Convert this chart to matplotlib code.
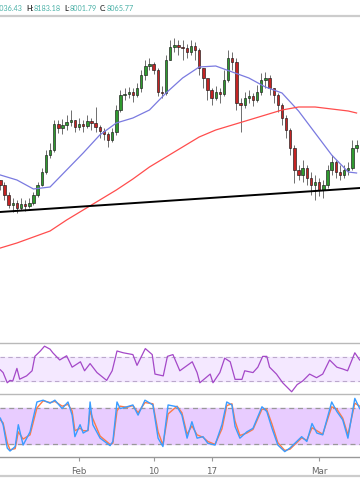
import numpy as np
import pandas as pd
import matplotlib
matplotlib.use("Agg")
import matplotlib.pyplot as plt
from matplotlib.lines import Line2D

# 12h candles starting 2020-01-22 12:00
start = pd.Timestamp("2020-01-22 12:00")
first_open = 9000
closes = [8950, 8850, 8750, 8770, 8720, 8760, 8740, 8770, 8850, 8950,
          9080, 9250, 9300, 9560, 9520, 9550, 9580, 9600, 9530, 9560,
          9540, 9590, 9570, 9530, 9490, 9460, 9400, 9480, 9700, 9850,
          9860, 9880, 9850, 9920, 10050, 10140, 10160, 10100, 9880, 9870,
          10200, 10330, 10350, 10330, 10320, 10280, 10340, 10300, 10120, 10020,
          9900, 9820, 9880, 9860, 10000, 10220, 10180, 9770, 9750, 9820,
          9840, 9800, 9880, 10000, 10020, 9920, 9850, 9750, 9620, 9500,
          9320, 9100, 9050, 9120, 9020, 8950, 8980, 8900, 8950, 9100,
          9180, 9080, 9050, 9100, 9120, 9320, 9350]
highs = [9000, 8980, 8880, 8820, 8800, 8820, 8800, 8820, 8880, 8980,
         9120, 9300, 9370, 9600, 9600, 9610, 9650, 9700, 9600, 9620,
         9600, 9650, 9620, 9730, 9550, 9520, 9480, 9520, 9750, 9900,
         9920, 9930, 9920, 9970, 10100, 10200, 10220, 10180, 10120, 9940,
         10250, 10400, 10420, 10400, 10400, 10360, 10400, 10380, 10320, 10120,
         10000, 9920, 9940, 9920, 10100, 10300, 10280, 10220, 9820, 9880,
         9900, 9870, 9950, 10070, 10080, 10050, 9920, 9870, 9770, 9650,
         9520, 9350, 9150, 9200, 9150, 9080, 9050, 9020, 9000, 9150,
         9250, 9200, 9150, 9150, 9180, 9400, 9400]
lows = [8900, 8800, 8720, 8680, 8670, 8700, 8690, 8720, 8750, 8830,
        8940, 9060, 9220, 9280, 9470, 9460, 9500, 9540, 9480, 9500,
        9480, 9520, 9500, 9480, 9420, 9400, 9330, 9380, 9450, 9680,
        9800, 9820, 9780, 9830, 9880, 10000, 10100, 10060, 9840, 9820,
        9850, 10200, 10280, 10250, 10200, 10220, 10250, 10200, 10050, 9920,
        9800, 9750, 9800, 9770, 9840, 9980, 10100, 9700, 9480, 9720,
        9770, 9740, 9780, 9850, 9920, 9850, 9770, 9680, 9550, 9420,
        9250, 8970, 9000, 8980, 8950, 8850, 8800, 8840, 8820, 8920,
        9050, 9020, 9000, 9020, 9050, 9100, 9280]

# moving averages, sampled every 4 candles (last one at candle 86)
ma_candles = [0, 4, 8, 12, 16, 20, 24, 28, 32, 36, 40, 44, 48, 52, 56, 60,
              64, 68, 72, 76, 80, 84, 86]
ma_fast = [9050, 9000, 8910, 8930, 9100, 9270, 9450, 9570, 9620, 9700, 9870,
           10020, 10130, 10140, 10080, 10020, 9930, 9870, 9690, 9470, 9250,
           9080, 9070]
ma_slow = [8320, 8370, 8430, 8490, 8600, 8700, 8800, 8900, 9010, 9130, 9230,
           9330, 9430, 9500, 9550, 9600, 9650, 9700, 9730, 9730, 9710, 9690,
           9670]

# support trendline (price at left / right edge)
trend_hours = [-1, 1042]
trend_price = [8680, 8920]

# RSI (hours from start)
rsi_hours = [0, 8, 20, 28, 36, 48, 56, 76, 92, 100,
             116, 128, 144, 152, 172, 192, 208, 232, 244, 260,
             280, 308, 324, 338, 356, 384, 396, 420, 440, 448,
             472, 484, 500, 520, 556, 570, 578, 608, 616, 636,
             650, 666, 680, 700, 708, 732, 746, 760, 772, 780,
             800, 818, 844, 860, 876, 896, 916, 934, 954, 975,
             992, 1006, 1027, 1041]
rsi_vals = [48.6, 44, 27, 31, 30, 51, 33, 38.5, 47, 71,
            80, 88, 83, 77, 65, 72, 53, 62, 47, 59,
            44, 31, 47, 80, 77, 74, 56, 84, 74, 41.5,
            38.5, 71, 74, 47, 62, 44, 27, 41.5, 27, 44,
            68, 62, 32.7, 32.7, 47, 44, 53, 71, 71, 53,
            41.5, 27, 12, 24, 30, 41.5, 35.5, 41.5, 65, 53,
            50, 47, 77, 65]

# stochastic %K / %D
stoch_hours = [0, 8, 20, 28, 43, 52, 66, 86, 106, 124,
               144, 158, 179, 196, 208, 216, 231, 240, 254, 260,
               268, 289, 318, 326, 338, 347, 367, 384, 399, 419,
               442, 457, 471, 486, 512, 526, 541, 555, 570, 587,
               601, 622, 642, 656, 671, 680, 694, 714, 732, 758,
               772, 787, 804, 824, 839, 873, 888, 903, 917, 934,
               960, 975, 992, 1007, 1027, 1041]
stoch_k = [63, 52, 13, 8, 15.5, 52, 18, 40, 90, 93,
           88, 93, 79, 90, 68, 32, 52, 38, 43, 90,
           52, 29.5, 17, 24, 90, 79, 82, 85, 68, 93,
           85, 29.5, 15.5, 85, 82, 68, 29.5, 57, 29.5, 32,
           21, 18, 52, 90, 85, 49, 29.5, 40, 46, 82,
           74, 46, 18, 7, 13, 32, 24, 54, 38, 35,
           90, 74, 60, 29.5, 96, 79]
stoch_d = [60, 55, 22, 10, 12, 40, 28, 35, 80, 92,
           89, 91, 83, 86, 75, 42, 46, 42, 42, 75,
           62, 33, 19, 21, 75, 83, 81, 84, 72, 89,
           87, 40, 18, 70, 83, 72, 36, 50, 35, 31,
           24, 19, 45, 84, 87, 58, 34, 38, 44, 78,
           77, 53, 22, 9, 11, 30, 26, 47, 42, 36,
           82, 78, 63, 35, 88, 83]

tick_dates = ["2020-02-01", "2020-02-10", "2020-02-17", "2020-03-01"]
tick_labels = ["Feb", "10", "17", "Mar"]

header = [("O:", "8036.43"), ("H:", "8183.18"), ("L:", "8001.79"),
          ("C:", "8065.77")]

W, H = 360, 504
fig = plt.figure(figsize=(W / 100, H / 100), dpi=100)
fig.patch.set_facecolor("white")


def box(top, bottom):
    return [0, 1 - bottom / H, 1, (bottom - top) / H]


ax = fig.add_axes(box(16, 340))
ax_rsi = fig.add_axes(box(343, 394), sharex=ax)
ax_st = fig.add_axes(box(396, 457), sharex=ax)

# --- candles
closes = np.array(closes, float)
opens = np.r_[first_open, closes[:-1]]
hours = np.arange(len(closes)) * 12.0
up = closes >= opens
ax.vlines(hours, lows, highs, color="#6e6e6e", lw=0.7, zorder=2)
body = np.maximum(np.abs(closes - opens), 8)
bottoms = np.minimum(opens, closes)
ax.bar(hours[up], body[up], bottom=bottoms[up], width=7,
       color="#2f9a2f", edgecolor="#1a1a1a", lw=0.45, zorder=3)
ax.bar(hours[~up], body[~up], bottom=bottoms[~up], width=7,
       color="#c42323", edgecolor="#1a1a1a", lw=0.45, zorder=3)

ma_hours = np.array(ma_candles) * 12.0
ax.plot(ma_hours, ma_fast, color="#7a7ae0", lw=0.9, zorder=4)
ax.plot(ma_hours, ma_slow, color="#ff4d4d", lw=0.9, zorder=4)
ax.plot(trend_hours, trend_price, color="black", lw=1.4, zorder=5)

ax.set_xlim(-1, 1042)
ax.set_ylim(7400, 10640)
ax.axis("off")

# --- RSI
ax_rsi.axhspan(30, 70, color="#f4e8ff", zorder=0)
for lvl in (30, 70):
    ax_rsi.axhline(lvl, color="#bba8cc", lw=0.8, ls=(0, (4, 3)))
ax_rsi.plot(rsi_hours, rsi_vals, color="#a448c8", lw=0.9)
ax_rsi.set_ylim(8.3, 93.3)
for s in ("left", "right"):
    ax_rsi.spines[s].set_visible(False)
for s in ("top", "bottom"):
    ax_rsi.spines[s].set_color("#b9b9b9")
    ax_rsi.spines[s].set_linewidth(1)
ax_rsi.set_yticks([])
ax_rsi.tick_params(axis="x", bottom=False, labelbottom=False)

# --- Stochastic
ax_st.axhspan(20, 80, color="#e8ccff", zorder=0)
for lvl in (20, 80):
    ax_st.axhline(lvl, color="#999999", lw=0.9, ls=(0, (4, 3)))
ax_st.plot(stoch_hours, stoch_d, color="#ff7a45", lw=1.0)
ax_st.plot(stoch_hours, stoch_k, color="#3a9cff", lw=1.0)
ax_st.set_ylim(-2, 100)
for s in ("left", "right", "top"):
    ax_st.spines[s].set_visible(False)
ax_st.spines["bottom"].set_color("#999999")
ax_st.spines["bottom"].set_linewidth(1)
ax_st.set_yticks([])
tick_pos = [(pd.Timestamp(d) - start) / pd.Timedelta(hours=1) for d in tick_dates]
ax_st.set_xticks(tick_pos)
ax_st.set_xticklabels(tick_labels)
ax_st.tick_params(axis="x", length=3, color="#999999", labelcolor="#666666",
                  labelsize=6.3, pad=4)
ax_st.set_xlim(-1, 1042)

# --- separators
for y in (15.5, 475.5):
    fig.add_artist(Line2D([0, 1], [1 - y / H] * 2, color="#cccccc", lw=1.6,
                          transform=fig.transFigure))

# --- OHLC header, laid out piece by piece (first value runs off the left edge)
teal, dark = "#48b0a6", "#333333"
hy = 1 - 8.5 / H
fs = 5.2
renderer = fig.canvas.get_renderer()
first = fig.text(23 / W, hy, header[0][1], color=teal, fontsize=fs,
                 ha="right", va="center", family="Lato")
x = first.get_window_extent(renderer).x1 + 3
for label, value in header[1:]:
    for txt, col, wt in ((label, dark, "bold"), (value, teal, "normal")):
        t = fig.text(x / W, hy, txt, color=col, fontsize=fs, ha="left",
                     va="center", family="Lato", weight=wt)
        x = t.get_window_extent(renderer).x1 + (0.3 if col == dark else 3)

fig.savefig("out.png", dpi=100, facecolor="white")
